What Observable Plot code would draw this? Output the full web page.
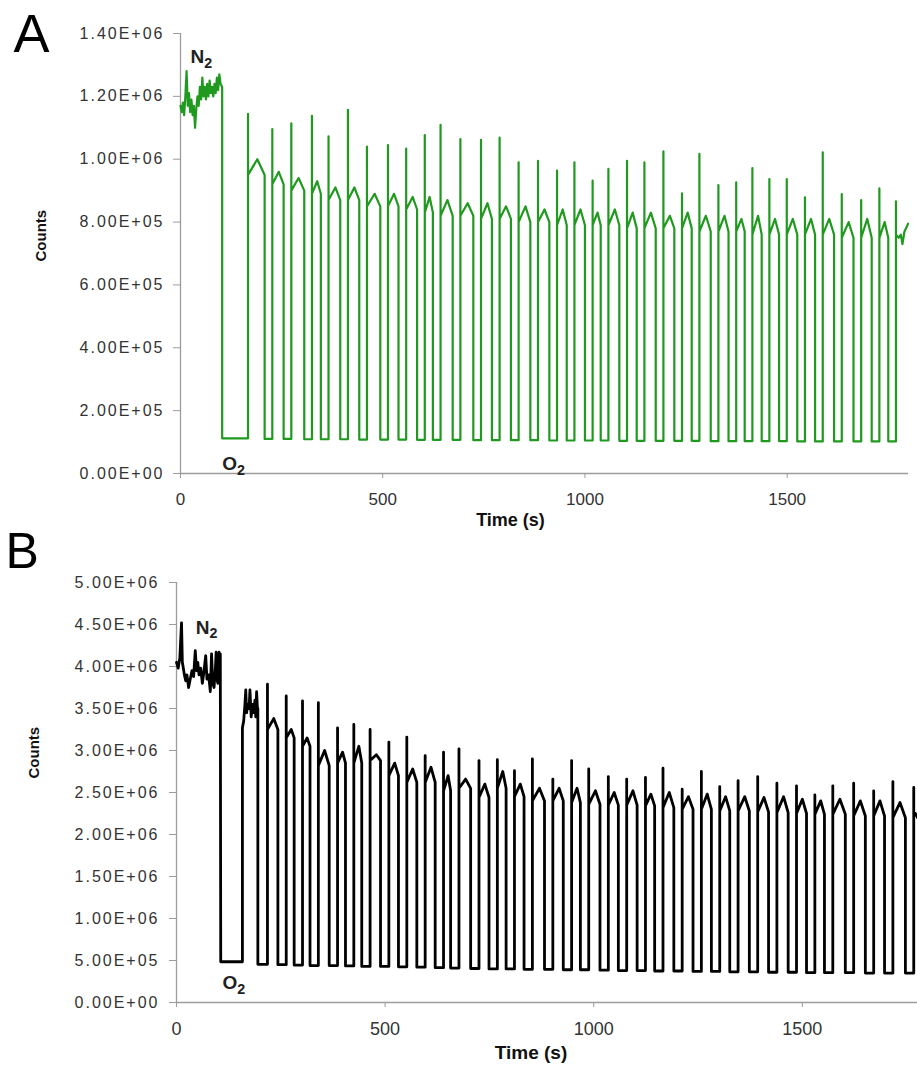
<!DOCTYPE html>
<html>
<head>
<meta charset="utf-8">
<script src="https://cdn.jsdelivr.net/npm/d3@7"></script>
<script src="https://cdn.jsdelivr.net/npm/@observablehq/plot@0.6"></script>
<style>
  html, body { margin: 0; padding: 0; background: #fff; overflow: hidden; }
  #wrap { position: relative; width: 917px; height: 1076px; }
  #panelA { position: absolute; left: 0; top: 0; }
  #panelB { position: absolute; left: 0; top: 520px; }
</style>
</head>
<body>
<div id="wrap"><div id="panelA"></div><div id="panelB"></div></div>
<script>
// ---------- shared ticks ----------
const xTicks = [0, 500, 1000, 1500];
const yTicksA = [0, 2e5, 4e5, 6e5, 8e5, 1e6, 1.2e6, 1.4e6];
const yTicksB = [0, 5e5, 1e6, 1.5e6, 2e6, 2.5e6, 3e6, 3.5e6, 4e6, 4.5e6, 5e6];

// ---------- Panel A (green) ----------
const n2TimeA = [0,3,6,9,12,15,18,21,24,27,30,33,36,39,42,45,48,51,54,57,60,63,66,69,72,75,78,81,84,87,90,93,96,99,103];
const n2CountA = [1.17e6,1.15e6,1.18e6,1.14e6,1.20e6,1.28e6,1.17e6,1.21e6,1.15e6,1.19e6,1.14e6,1.17e6,1.10e6,1.16e6,1.20e6,1.17e6,1.23e6,1.19e6,1.26e6,1.20e6,1.23e6,1.19e6,1.24e6,1.20e6,1.25e6,1.21e6,1.23e6,1.20e6,1.24e6,1.21e6,1.26e6,1.22e6,1.27e6,1.24e6,1.23e6];
const upA = [167,227,274,325,366,414,461,513,558,604,643,692,743,789,836,884,931,974,1019,1058,1104,1147,1194,1240,1283,1330,1374,1414,1456,1499,1544,1588,1635,1683,1728,1769];
const humpTimeA = [190,243,292,338,383,430,480,528,574,616,660,710,759,805,853,900,945,989,1031,1074,1118,1163,1210,1254,1299,1345,1387,1428,1470,1514,1559,1604,1652,1698,1741];
const downA = [208,255,306,347,395,442,494,539,585,624,673,724,770,817,865,912,955,1000,1039,1085,1128,1175,1221,1264,1311,1355,1395,1437,1480,1525,1569,1616,1664,1709,1750];
const spikeA = [1.144e6,1.096e6,1.114e6,1.138e6,1.073e6,1.157e6,1.040e6,1.045e6,1.034e6,1.077e6,1.109e6,1.064e6,1.062e6,1.069e6,0.990e6,0.995e6,0.964e6,0.990e6,0.932e6,0.969e6,0.995e6,0.990e6,1.025e6,0.891e6,1.017e6,0.918e6,0.926e6,0.972e6,0.937e6,0.937e6,0.879e6,1.022e6,0.889e6,0.870e6,0.907e6,0.866e6];
const plateauA = [9.5e5,9.2e5,9.0e5,8.9e5,8.7e5,8.7e5,8.5e5,8.5e5,8.4e5,8.3e5,8.2e5,8.2e5,8.1e5,8.1e5,8.0e5,8.0e5,7.9e5,7.9e5,7.9e5,7.9e5,7.8e5,7.8e5,7.8e5,7.8e5,7.7e5,7.7e5,7.7e5,7.6e5,7.6e5,7.6e5,7.6e5,7.6e5,7.5e5,7.5e5,7.5e5,7.6e5];
const humpA = [10.0e5,9.6e5,9.4e5,9.3e5,9.1e5,9.1e5,8.9e5,8.9e5,8.8e5,8.8e5,8.7e5,8.6e5,8.6e5,8.5e5,8.5e5,8.4e5,8.4e5,8.4e5,8.3e5,8.4e5,8.3e5,8.3e5,8.2e5,8.3e5,8.2e5,8.2e5,8.1e5,8.2e5,8.1e5,8.1e5,8.1e5,8.1e5,8.0e5,8.1e5,8.0e5];
const lowA = [1.12e5,1.10e5,1.10e5,1.09e5,1.09e5,1.09e5,1.08e5,1.08e5,1.08e5,1.07e5,1.07e5,1.07e5,1.06e5,1.06e5,1.06e5,1.06e5,1.05e5,1.05e5,1.05e5,1.05e5,1.04e5,1.04e5,1.04e5,1.04e5,1.04e5,1.03e5,1.03e5,1.03e5,1.03e5,1.03e5,1.02e5,1.02e5,1.02e5,1.02e5,1.02e5,1.02e5];
const endTimeA = [1776,1781,1785,1790,1794,1799];
const endCountA = [7.5e5,7.6e5,7.3e5,7.7e5,7.8e5,7.95e5];
const notesA = [{label: "N\u2082", t: 25, v: 1.324e6}, {label: "O\u2082", t: 103, v: 2.9e4}];

// ---------- Panel B (black) ----------
const introTimeB = [0,4,8,12,14,16,19,22,25,29,33,37,41,45,48,51,54,58,62,66,70,73,77,81,84,87,90,93,95,97,99,102,104,105,
  106,158,
  158,161,164,166,168,171,174,176,179,182,185,188,190,192,194,195];
const introCountB = [4.05e6,3.98e6,4.10e6,4.52e6,4.05e6,3.99e6,3.90e6,3.83e6,3.90e6,3.75e6,3.85e6,3.95e6,3.88e6,4.19e6,3.95e6,4.05e6,3.90e6,3.98e6,3.80e6,3.95e6,4.13e6,3.85e6,3.90e6,3.70e6,4.15e6,3.80e6,3.75e6,3.95e6,4.17e6,3.85e6,3.80e6,4.17e6,3.90e6,4.15e6,
  4.85e5,4.85e5,
  3.27e6,3.35e6,3.55e6,3.72e6,3.45e6,3.55e6,3.50e6,3.72e6,3.40e6,3.55e6,3.45e6,3.60e6,3.40e6,3.70e6,3.50e6,3.50e6];
const upB = [218,263,302,340,386,425,464,509,552,596,640,677,725,769,810,853,902,947,988,1035,1079,1124,1166,1212,1258,1302,1346,1393,1439,1486,1530,1573,1623,1671,1717,1767];
const humpTimeB = [233,275,313,355,398,437,479,523,566,610,651,693,739,782,824,870,917,960,1004,1049,1094,1137,1181,1227,1272,1316,1362,1408,1455,1500,1544,1590,1639,1686,1734];
const downB = [243,282,320,366,405,444,489,532,576,620,657,705,749,790,833,882,927,968,1015,1059,1104,1146,1192,1238,1282,1326,1373,1419,1466,1510,1553,1603,1651,1697,1747];
const spikeB = [3.79e6,3.65e6,3.59e6,3.57e6,3.27e6,3.31e6,3.25e6,3.10e6,3.16e6,2.94e6,2.98e6,3.02e6,2.88e6,2.89e6,2.76e6,2.90e6,2.66e6,2.88e6,2.78e6,2.69e6,2.66e6,2.68e6,2.79e6,2.54e6,2.75e6,2.57e6,2.64e6,2.69e6,2.61e6,2.58e6,2.47e6,2.58e6,2.61e6,2.52e6,2.63e6,2.56e6];
const plateauB = [3.25e6,3.15e6,3.05e6,2.82e6,2.85e6,2.85e6,2.88e6,2.70e6,2.62e6,2.62e6,2.52e6,2.55e6,2.44e6,2.55e6,2.45e6,2.40e6,2.40e6,2.38e6,2.36e6,2.35e6,2.35e6,2.34e6,2.32e6,2.30e6,2.30e6,2.28e6,2.28e6,2.27e6,2.26e6,2.25e6,2.24e6,2.24e6,2.22e6,2.22e6,2.20e6,2.22e6];
const humpB = [3.38e6,3.25e6,3.15e6,3.00e6,2.98e6,3.05e6,2.95e6,2.85e6,2.78e6,2.80e6,2.70e6,2.66e6,2.60e6,2.75e6,2.60e6,2.55e6,2.55e6,2.55e6,2.52e6,2.50e6,2.52e6,2.48e6,2.50e6,2.45e6,2.48e6,2.45e6,2.45e6,2.44e6,2.45e6,2.42e6,2.40e6,2.42e6,2.40e6,2.40e6,2.38e6];
const lowB = [4.55e5,4.50e5,4.45e5,4.40e5,4.40e5,4.35e5,4.30e5,4.30e5,4.25e5,4.20e5,4.15e5,4.10e5,4.05e5,4.00e5,4.00e5,3.95e5,3.95e5,3.90e5,3.90e5,3.85e5,3.80e5,3.80e5,3.75e5,3.75e5,3.70e5,3.70e5,3.65e5,3.65e5,3.60e5,3.60e5,3.55e5,3.55e5,3.55e5,3.50e5,3.50e5,3.50e5];
const endTimeB = [1771,1776];
const endCountB = [2.25e6,2.20e6];
const notesB = [{label: "N\u2082", t: 46, v: 4.46e6}, {label: "O\u2082", t: 110, v: 2.29e5}];

// ---------- helpers ----------
const fmt = d => {
  const [m, e] = d.toExponential(2).split("e");
  return m + "E" + e[0] + e.slice(1).padStart(2, "0");
};

function buildRows(introT, introV, ups, humpTs, downs, spikes, plats, humps, lows, endT, endV) {
  const rows = introT.map((t, i) => ({t, v: introV[i]}));
  let tDrop = introT[introT.length - 1];
  ups.forEach((u, i) => {
    rows.push({t: tDrop, v: lows[i]}, {t: u, v: lows[i]}, {t: u, v: spikes[i]}, {t: u, v: plats[i]});
    if (i < downs.length) {
      rows.push({t: humpTs[i], v: humps[i]}, {t: downs[i], v: plats[i]});
      tDrop = downs[i];
    }
  });
  endT.forEach((t, i) => rows.push({t, v: endV[i]}));
  return rows;
}

const rowsA = buildRows(n2TimeA, n2CountA, upA, humpTimeA, downA, spikeA, plateauA, humpA, lowA, endTimeA, endCountA);
const rowsB = buildRows(introTimeB, introCountB, upB, humpTimeB, downB, spikeB, plateauB, humpB, lowB, endTimeB, endCountB);

const FONT = "'Liberation Sans', Arial, Helvetica, sans-serif";
const AXIS = "#9c9c9c";
const TXT = "#333";

function panel(o) {
  const svg = Plot.plot({
    width: 917,
    height: o.height,
    marginLeft: o.ml, marginRight: o.mr, marginTop: o.mt, marginBottom: o.mb,
    style: {fontFamily: FONT, background: "transparent", overflow: "visible"},
    x: {domain: o.xDomain},
    y: {domain: o.yDomain},
    marks: [
      Plot.axisY({ticks: o.yTicks, tickFormat: fmt, tickSize: 7, tickPadding: o.yPad, fontSize: 16, color: TXT, label: null}),
      Plot.axisX({ticks: xTicks, tickFormat: d => String(d), tickSize: 5, tickPadding: o.xPad, fontSize: o.xFont, color: TXT, label: null}),
      Plot.ruleX([0], {stroke: AXIS, strokeWidth: 1.3}),
      Plot.ruleY([0], {stroke: AXIS, strokeWidth: 1.3}),
      Plot.line(o.rows, {x: "t", y: "v", stroke: o.color, strokeWidth: o.sw, curve: "linear"}),
      Plot.text(o.notes, {x: "t", y: "v", text: "label", textAnchor: "start", lineAnchor: "middle", fontSize: 19, fontWeight: "bold", fill: "#222"}),
      Plot.text([o.letter], {frameAnchor: "top-left", textAnchor: "start", lineAnchor: "top", dx: o.letterDx, dy: o.letterDy, fontSize: o.letterSize, fill: "#000"}),
      Plot.text(["Counts"], {frameAnchor: "left", rotate: -90, dx: o.countsDx, dy: o.countsDy, fontSize: 15, fontWeight: "bold", fill: "#111"}),
      Plot.text(["Time (s)"], {frameAnchor: "bottom", dx: o.timeDx, dy: o.timeDy, fontSize: o.timeSize, fontWeight: "bold", fill: "#111"})
    ]
  });
  const s = d3.select(svg);
  s.selectAll('[aria-label="y-axis tick label"] text').attr("letter-spacing", "2");
  s.selectAll('[aria-label="y-axis tick"], [aria-label="x-axis tick"]').attr("stroke", AXIS);
  // real subscripts for the gas labels
  s.selectAll("text").filter(function () { return this.textContent.includes("\u2082"); }).each(function () {
    const base = this.textContent.replace("\u2082", "");
    const t = d3.select(this);
    t.text(base);
    t.append("tspan").attr("font-size", "0.75em").attr("dy", "0.3em").text("2");
  });
  return svg;
}

document.getElementById("panelA").appendChild(panel({
  height: 540, ml: 180, mr: 9, mt: 33, mb: 67,
  xDomain: [0, 1800], yDomain: [0, 1.4e6], yTicks: yTicksA, yPad: 9, xPad: 14, xFont: 17,
  rows: rowsA, color: "#1f9a1f", sw: 2.2, notes: notesA,
  letter: "A", letterDx: -167, letterDy: -20, letterSize: 54,
  countsDx: -139, countsDy: 8, timeDx: -34, timeDy: 52, timeSize: 18
}));

document.getElementById("panelB").appendChild(panel({
  height: 556, ml: 176, mr: 0, mt: 62, mb: 74,
  xDomain: [0, 1776], yDomain: [0, 5e6], yTicks: yTicksB, yPad: 10, xPad: 15, xFont: 18,
  rows: rowsB, color: "#000", sw: 2.8, notes: notesB,
  letter: "B", letterDx: -171, letterDy: -50, letterSize: 50,
  countsDx: -142, countsDy: -14, timeDx: -16, timeDy: 56, timeSize: 19
}));
</script>
</body>
</html>
